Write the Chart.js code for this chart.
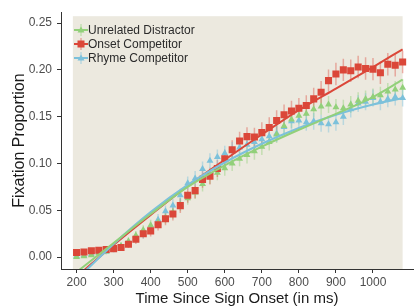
<!DOCTYPE html>
<html>
<head>
<meta charset="utf-8">
<script src="https://cdn.jsdelivr.net/npm/chart.js@4"></script>
<style>
  html, body { margin: 0; padding: 0; background: #fff; }
  #wrap { width: 418px; height: 308px; position: relative; }
</style>
</head>
<body>
<div id="wrap"><canvas id="fixChart"></canvas></div>
<script>
const times = [200, 220, 240, 260, 280, 300, 320, 340, 360, 380, 400, 420, 440, 460, 480,
  500, 520, 540, 560, 580, 600, 620, 640, 660, 680, 700, 720, 740, 760, 780,
  800, 820, 840, 860, 880, 900, 920, 940, 960, 980, 1000, 1020, 1040, 1060, 1080];

const unrelated = [0.000, 0.001, 0.002, 0.004, 0.006, 0.009, 0.012, 0.017, 0.023, 0.029,
  0.034, 0.037, 0.042, 0.048, 0.056, 0.063, 0.069, 0.078, 0.086, 0.090,
  0.095, 0.100, 0.105, 0.109, 0.113, 0.118, 0.123, 0.131, 0.140, 0.147,
  0.151, 0.153, 0.158, 0.161, 0.163, 0.160, 0.159, 0.163, 0.167, 0.169,
  0.171, 0.173, 0.177, 0.179, 0.181];
const onset = [0.005, 0.0055, 0.0067, 0.0074, 0.0081, 0.0091, 0.0102, 0.0137, 0.019, 0.025,
  0.028, 0.0345, 0.041, 0.046, 0.055, 0.066, 0.071, 0.083, 0.0865, 0.0946,
  0.105, 0.1147, 0.124, 0.1287, 0.1283, 0.133, 0.1385, 0.146, 0.152, 0.156,
  0.159, 0.162, 0.169, 0.176, 0.1885, 0.1955, 0.200, 0.199, 0.203, 0.2015,
  0.2008, 0.197, 0.206, 0.205, 0.2085];
const rhyme = [0.001, 0.002, 0.003, 0.005, 0.006, 0.008, 0.011, 0.015, 0.019, 0.025,
  0.031, 0.040, 0.049, 0.055, 0.066, 0.079, 0.084, 0.094, 0.103, 0.107,
  0.111, 0.115, 0.117, 0.120, 0.123, 0.126, 0.129, 0.132, 0.139, 0.145,
  0.146, 0.144, 0.145, 0.143, 0.142, 0.144, 0.150, 0.158, 0.164, 0.166,
  0.170, 0.166, 0.169, 0.171, 0.170];

// half-widths of the error bars
const unrelatedErr = [0.002, 0.002, 0.002, 0.003, 0.003, 0.003, 0.004, 0.004, 0.005, 0.005,
  0.006, 0.006, 0.006, 0.007, 0.007, 0.007, 0.007, 0.008, 0.008, 0.008,
  0.008, 0.008, 0.008, 0.009, 0.009, 0.009, 0.009, 0.009, 0.009, 0.009,
  0.009, 0.009, 0.009, 0.009, 0.009, 0.009, 0.009, 0.009, 0.009, 0.009,
  0.009, 0.009, 0.009, 0.009, 0.009];
const onsetErr = [0.002, 0.002, 0.002, 0.002, 0.003, 0.003, 0.003, 0.004, 0.005, 0.005,
  0.006, 0.006, 0.007, 0.007, 0.008, 0.008, 0.008, 0.009, 0.009, 0.009,
  0.010, 0.010, 0.010, 0.010, 0.010, 0.011, 0.011, 0.011, 0.011, 0.011,
  0.011, 0.011, 0.012, 0.012, 0.012, 0.012, 0.012, 0.012, 0.012, 0.012,
  0.012, 0.012, 0.012, 0.012, 0.012];
const rhymeErr = [0.002, 0.002, 0.002, 0.002, 0.003, 0.003, 0.003, 0.004, 0.004, 0.005,
  0.005, 0.006, 0.006, 0.007, 0.007, 0.007, 0.008, 0.008, 0.008, 0.008,
  0.008, 0.008, 0.009, 0.009, 0.009, 0.009, 0.009, 0.009, 0.009, 0.009,
  0.009, 0.009, 0.009, 0.009, 0.009, 0.009, 0.009, 0.009, 0.009, 0.009,
  0.009, 0.009, 0.009, 0.009, 0.009];

// fitted curves
const fitTimes = [200, 300, 400, 500, 600, 700, 800, 900, 1000, 1080];
const unrelatedFit = [-0.016, 0.015, 0.046, 0.075, 0.098, 0.118, 0.136, 0.153, 0.171, 0.1895];
const onsetFit = [-0.021, 0.013, 0.045, 0.076, 0.104, 0.131, 0.157, 0.180, 0.203, 0.222];
const rhymeFit = [-0.024, 0.014, 0.048, 0.077, 0.101, 0.121, 0.138, 0.152, 0.163, 0.170];

const xTicks = [200, 300, 400, 500, 600, 700, 800, 900, 1000];
const yTicks = [0, 0.05, 0.10, 0.15, 0.20, 0.25];

const seriesNames = ["Unrelated Distractor", "Onset Competitor", "Rhyme Competitor"];

const GREEN = "rgb(146, 208, 122)";
const RED = "rgb(219, 71, 57)";
const BLUE = "rgb(124, 193, 219)";
const GREEN_E = "rgba(146, 208, 122, 0.45)";
const RED_E = "rgba(219, 71, 57, 0.4)";
const BLUE_E = "rgba(124, 193, 219, 0.45)";

const FONT = "'Liberation Sans', Arial, sans-serif";

const pts = (ys) => times.map((t, i) => ({ x: t, y: ys[i] }));
const fit = (ys) => fitTimes.map((t, i) => ({ x: t, y: ys[i] }));

const panelBg = {
  id: "panelBg",
  beforeDatasetsDraw(chart) {
    const { ctx, chartArea, scales } = chart;
    const x0 = scales.x.getPixelForValue(190);
    const x1 = scales.x.getPixelForValue(1080);
    const y0 = chartArea.top + 4;
    ctx.save();
    ctx.fillStyle = "#ECE9DF";
    ctx.fillRect(x0, y0, x1 - x0, chartArea.bottom - y0);
    ctx.restore();
  }
};

const errorBars = {
  id: "errorBars",
  beforeDatasetsDraw(chart) {
    const { ctx, scales, chartArea } = chart;
    const sets = [[unrelated, unrelatedErr, GREEN_E], [onset, onsetErr, RED_E], [rhyme, rhymeErr, BLUE_E]];
    ctx.save();
    ctx.beginPath();
    ctx.rect(chartArea.left, chartArea.top, chartArea.right - chartArea.left, chartArea.bottom - chartArea.top);
    ctx.clip();
    ctx.lineWidth = 1.5;
    sets.forEach(([vals, errs, col]) => {
      ctx.strokeStyle = col;
      times.forEach((t, i) => {
        const px = scales.x.getPixelForValue(t);
        ctx.beginPath();
        ctx.moveTo(px, scales.y.getPixelForValue(vals[i] - errs[i]));
        ctx.lineTo(px, scales.y.getPixelForValue(vals[i] + errs[i]));
        ctx.stroke();
      });
    });
    ctx.restore();
  }
};

const insideLegend = {
  id: "insideLegend",
  afterDraw(chart) {
    const { ctx } = chart;
    const items = [[GREEN, GREEN_E, "triangle"], [RED, RED_E, "rect"], [BLUE, BLUE_E, "triangle"]];
    ctx.save();
    items.forEach(([col, colE, shape], i) => {
      const cx = 81, cy = 30 + i * 14;
      ctx.strokeStyle = colE;
      ctx.lineWidth = 1.5;
      ctx.beginPath();
      ctx.moveTo(cx, cy - 6);
      ctx.lineTo(cx, cy + 6);
      ctx.stroke();
      ctx.strokeStyle = col;
      ctx.lineWidth = 2;
      ctx.beginPath();
      ctx.moveTo(cx - 7, cy);
      ctx.lineTo(cx + 7, cy);
      ctx.stroke();
      ctx.fillStyle = col;
      if (shape === "rect") {
        ctx.fillRect(cx - 3.5, cy - 3.5, 7, 7);
      } else {
        ctx.beginPath();
        ctx.moveTo(cx, cy - 3.5);
        ctx.lineTo(cx + 3.5, cy + 2.5);
        ctx.lineTo(cx - 3.5, cy + 2.5);
        ctx.closePath();
        ctx.fill();
      }
      ctx.fillStyle = "#2b2b2b";
      ctx.font = "12px " + FONT;
      ctx.textAlign = "left";
      ctx.textBaseline = "middle";
      ctx.fillText(seriesNames[i], 88, cy + 1);
    });
    ctx.restore();
  }
};

const ctx = document.getElementById("fixChart");

new Chart(ctx, {
  type: "scatter",
  data: {
    datasets: [
      { type: "line", label: seriesNames[0] + " fit", data: fit(unrelatedFit), borderColor: GREEN, borderWidth: 2, pointRadius: 0, cubicInterpolationMode: "monotone", fill: false },
      { type: "line", label: seriesNames[2] + " fit", data: fit(rhymeFit), borderColor: BLUE, borderWidth: 2.2, pointRadius: 0, cubicInterpolationMode: "monotone", fill: false },
      { type: "line", label: seriesNames[1] + " fit", data: fit(onsetFit), borderColor: RED, borderWidth: 2, pointRadius: 0, cubicInterpolationMode: "monotone", fill: false },
      { label: seriesNames[1], data: pts(onset), pointStyle: "rect", pointRadius: 5, backgroundColor: RED, borderWidth: 0 },
      { label: seriesNames[0], data: pts(unrelated), pointStyle: "triangle", pointRadius: 4, backgroundColor: GREEN, borderWidth: 0 },
      { label: seriesNames[2], data: pts(rhyme), pointStyle: "triangle", pointRadius: 4, backgroundColor: BLUE, borderWidth: 0 },
    ],
  },
  options: {
    responsive: true,
    maintainAspectRatio: false,
    animation: false,
    layout: { padding: { top: 9, right: 0, left: 0, bottom: 0 } },
    plugins: {
      legend: { display: false },
      tooltip: { enabled: false },
    },
    scales: {
      x: {
        type: "linear",
        min: 158,
        max: 1108,
        afterBuildTicks: (s) => { s.ticks = xTicks.map((v) => ({ value: v })); },
        afterFit: (s) => { s.height = 39; },
        grid: { drawOnChartArea: false, drawTicks: true, tickLength: 4, color: "#333" },
        border: { display: true, color: "#333", width: 1 },
        ticks: { color: "#4d4d4d", font: { size: 12, family: FONT }, padding: 2, maxRotation: 0, callback: (v) => String(v) },
        title: { display: true, text: "Time Since Sign Onset (in ms)", color: "#1a1a1a", font: { size: 15, family: FONT }, padding: { top: 0, bottom: 0 } },
      },
      y: {
        min: -0.0127,
        max: 0.2616,
        afterBuildTicks: (s) => { s.ticks = yTicks.map((v) => ({ value: v })); },
        afterFit: (s) => { s.width = 61; },
        grid: { drawOnChartArea: false, drawTicks: true, tickLength: 4, color: "#333" },
        border: { display: true, color: "#333", width: 1 },
        ticks: { color: "#4d4d4d", font: { size: 12, family: FONT }, padding: 5, callback: (v) => v.toFixed(2) },
        title: { display: true, text: "Fixation Proportion", color: "#1a1a1a", font: { size: 16, family: FONT }, padding: { top: 10, bottom: 0 } },
      },
    },
  },
  plugins: [panelBg, errorBars, insideLegend],
});
</script>
</body>
</html>
